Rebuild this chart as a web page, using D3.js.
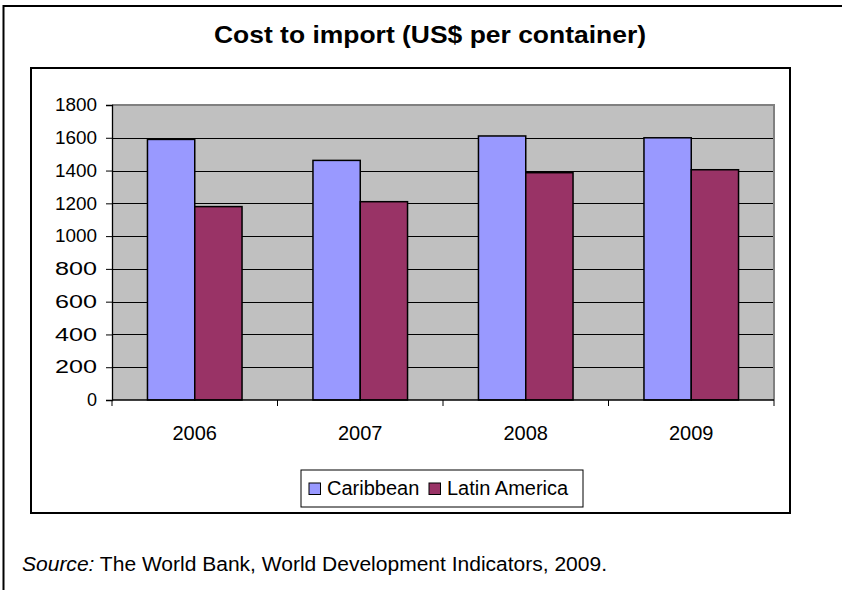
<!DOCTYPE html>
<html>
<head>
<meta charset="utf-8">
<script src="https://cdn.jsdelivr.net/npm/d3@7"></script>
<style>
  html, body { margin: 0; padding: 0; background: #ffffff; }
  svg { display: block; font-family: "Liberation Sans", Arial, sans-serif; }
</style>
</head>
<body>
<svg id="chart" width="842" height="590"></svg>
<script>
// ---- data ----
const years = ["2006", "2007", "2008", "2009"];
const seriesNames = ["Caribbean", "Latin America"];
const caribbean = [1590, 1462, 1611, 1600];
const latinAmerica = [1180, 1210, 1387, 1405];
const yTicks = [0, 200, 400, 600, 800, 1000, 1200, 1400, 1600, 1800];
const colors = ["#9999FF", "#993366"];
const titleText = "Cost to import (US$ per container)";

const svg = d3.select("#chart");

// outer frame (right and bottom edges lie outside the view)
svg.append("rect").attr("x", 3.5).attr("y", 6).attr("width", 900).attr("height", 700)
  .attr("fill", "none").attr("stroke", "#000").attr("stroke-width", 2);

// inner chart frame
svg.append("rect").attr("x", 31).attr("y", 68).attr("width", 759).attr("height", 445)
  .attr("fill", "#fff").attr("stroke", "#000").attr("stroke-width", 2);

// title
svg.append("text").attr("x", 430).attr("y", 43).attr("text-anchor", "middle")
  .attr("font-weight", "bold").attr("font-size", 24).attr("fill", "#000")
  .attr("textLength", 432).attr("lengthAdjust", "spacingAndGlyphs")
  .text(titleText);

// plot area
const plot = { left: 112, right: 774, top: 105, bottom: 400 };
const x0 = d3.scaleBand().domain(years).range([plot.left, plot.right]).padding(0);
const x1 = d3.scaleBand().domain(seriesNames).range([0, x0.bandwidth()]).paddingInner(0).paddingOuter(0.75);
const y = d3.scaleLinear().domain([0, 1800]).range([plot.bottom, plot.top]);

svg.append("rect").attr("x", plot.left).attr("y", plot.top)
  .attr("width", plot.right - plot.left).attr("height", plot.bottom - plot.top)
  .attr("fill", "#C0C0C0");

// gridlines
svg.append("g").selectAll("line").data(yTicks.filter(d => d > 0 && d < 1800)).join("line")
  .attr("x1", plot.left).attr("x2", plot.right)
  .attr("y1", d => Math.round(y(d)) + 0.5).attr("y2", d => Math.round(y(d)) + 0.5)
  .attr("stroke", "#000").attr("stroke-width", 1);

// top & right plot border (gray)
svg.append("path")
  .attr("d", `M${plot.left},${plot.top}H${plot.right}V${plot.bottom}`)
  .attr("fill", "none").attr("stroke", "#808080").attr("stroke-width", 2);

// bars
const rows = years.map((yr, i) => ({ year: yr, values: [caribbean[i], latinAmerica[i]] }));
const groups = svg.append("g").selectAll("g").data(rows).join("g")
  .attr("transform", d => `translate(${x0(d.year)},0)`);
groups.selectAll("rect").data(d => d.values.map((v, j) => ({ name: seriesNames[j], value: v, j })))
  .join("rect")
  .attr("x", d => x1(d.name))
  .attr("y", d => y(d.value))
  .attr("width", x1.bandwidth())
  .attr("height", d => y(0) - y(d.value))
  .attr("fill", d => colors[d.j])
  .attr("stroke", "#000").attr("stroke-width", 1.5);

// y axis
const yAxis = svg.append("g").attr("transform", `translate(${plot.left},0)`)
  .call(d3.axisLeft(y).tickValues(yTicks).tickSize(6).tickPadding(9).tickFormat(d3.format("d")));
yAxis.select(".domain").attr("stroke", "#000").attr("stroke-width", 1.3);
yAxis.selectAll(".tick line").attr("stroke", "#000");
yAxis.selectAll(".tick text").attr("font-size", 18).attr("fill", "#000")
  .attr("font-family", "Liberation Sans, Arial, sans-serif")
  .attr("textLength", 42).attr("lengthAdjust", "spacingAndGlyphs");
yAxis.selectAll(".tick text").filter(d => d === 0).attr("textLength", null);

// x axis baseline and category ticks
const xAxisG = svg.append("g");
xAxisG.append("line").attr("x1", plot.left).attr("x2", plot.right)
  .attr("y1", y(0)).attr("y2", y(0)).attr("stroke", "#000").attr("stroke-width", 1.3);
const boundaries = years.map(d => x0(d)).concat([x0.range()[1]]);
xAxisG.selectAll("line.tk").data(boundaries).join("line").attr("class", "tk")
  .attr("x1", d => d).attr("x2", d => d)
  .attr("y1", y(0)).attr("y2", y(0) + 6)
  .attr("stroke", "#000").attr("stroke-width", 1);
xAxisG.selectAll("text").data(years).join("text")
  .attr("x", d => x0(d) + x0.bandwidth() / 2)
  .attr("y", 440)
  .attr("text-anchor", "middle").attr("font-size", 20).attr("fill", "#000")
  .text(d => d);

// legend
const legend = svg.append("g");
legend.append("rect").attr("x", 301).attr("y", 470).attr("width", 282).attr("height", 37)
  .attr("fill", "#fff").attr("stroke", "#000").attr("stroke-width", 1);
const legendX = [309, 429];
seriesNames.forEach((name, i) => {
  legend.append("rect").attr("x", legendX[i]).attr("y", 483).attr("width", 11.5).attr("height", 11.5)
    .attr("fill", colors[i]).attr("stroke", "#000").attr("stroke-width", 1);
  legend.append("text").attr("x", legendX[i] + 18).attr("y", 495)
    .attr("font-size", 20).attr("fill", "#000").text(name);
});

// source note
const src = svg.append("text").attr("x", 22).attr("y", 571).attr("font-size", 20).attr("fill", "#000")
  .attr("textLength", 585).attr("lengthAdjust", "spacingAndGlyphs");
src.append("tspan").attr("font-style", "italic").text("Source:");
src.append("tspan").text(" The World Bank, World Development Indicators, 2009.");
</script>
</body>
</html>
